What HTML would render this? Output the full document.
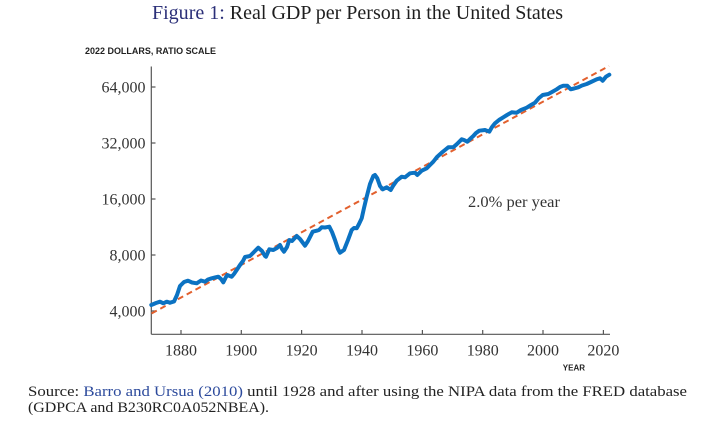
<!DOCTYPE html>
<html>
<head>
<meta charset="utf-8">
<style>
  html, body { margin: 0; padding: 0; background: #ffffff; }
  body { width: 712px; height: 427px; overflow: hidden; }
  svg { display: block; }
</style>
</head>
<body>
<svg width="712" height="427" viewBox="0 0 712 427" xmlns="http://www.w3.org/2000/svg">
  <rect x="0" y="0" width="712" height="427" fill="#ffffff"/>

  <!-- Title -->
  <text x="152" y="19" font-family="Liberation Serif, serif" font-size="20" textLength="411" lengthAdjust="spacingAndGlyphs" fill="#1e1e1e"><tspan fill="#2b2f78">Figure 1:</tspan> Real GDP per Person in the United States</text>

  <!-- Y axis label -->
  <text x="85" y="54" font-family="Liberation Sans, sans-serif" font-size="9" font-weight="bold" textLength="131" lengthAdjust="spacingAndGlyphs" fill="#222">2022 DOLLARS, RATIO SCALE</text>

  <!-- Axes -->
  <line x1="151.3" y1="66.5" x2="151.3" y2="334.3" stroke="#555" stroke-width="1.2"/>
  <line x1="151.3" y1="334.3" x2="610" y2="334.3" stroke="#555" stroke-width="1.2"/>

  <!-- Y ticks -->
  <g stroke="#555" stroke-width="1.2">
    <line x1="151.3" y1="87" x2="155.5" y2="87"/>
    <line x1="151.3" y1="143" x2="155.5" y2="143"/>
    <line x1="151.3" y1="199" x2="155.5" y2="199"/>
    <line x1="151.3" y1="255" x2="155.5" y2="255"/>
    <line x1="151.3" y1="311" x2="155.5" y2="311"/>
  </g>
  <g font-family="Liberation Serif, serif" font-size="16" fill="#333" text-anchor="end">
    <text x="145.5" y="92.5">64,000</text>
    <text x="145.5" y="148.5">32,000</text>
    <text x="145.5" y="204.5">16,000</text>
    <text x="145.5" y="260.5">8,000</text>
    <text x="145.5" y="316.5">4,000</text>
  </g>

  <!-- X ticks -->
  <g stroke="#555" stroke-width="1.2">
    <line x1="181" y1="330" x2="181" y2="334.3"/>
    <line x1="241.3" y1="330" x2="241.3" y2="334.3"/>
    <line x1="301.6" y1="330" x2="301.6" y2="334.3"/>
    <line x1="362" y1="330" x2="362" y2="334.3"/>
    <line x1="422.4" y1="330" x2="422.4" y2="334.3"/>
    <line x1="482.7" y1="330" x2="482.7" y2="334.3"/>
    <line x1="543" y1="330" x2="543" y2="334.3"/>
    <line x1="603.4" y1="330" x2="603.4" y2="334.3"/>
  </g>
  <g font-family="Liberation Serif, serif" font-size="16" fill="#333" text-anchor="middle">
    <text x="181" y="355.5">1880</text>
    <text x="241.3" y="355.5">1900</text>
    <text x="301.6" y="355.5">1920</text>
    <text x="362" y="355.5">1940</text>
    <text x="422.4" y="355.5">1960</text>
    <text x="482.7" y="355.5">1980</text>
    <text x="543" y="355.5">2000</text>
    <text x="603.4" y="355.5">2020</text>
  </g>
  <text x="585" y="370.5" font-family="Liberation Sans, sans-serif" font-size="8" font-weight="bold" fill="#222" text-anchor="end">YEAR</text>

  <!-- Trend line -->
  <line x1="151.5" y1="313.5" x2="609" y2="66" stroke="#e2602e" stroke-width="2" stroke-dasharray="6,4"/>

  <!-- GDP series -->
  <polyline fill="none" stroke="#0b72c2" stroke-width="4" stroke-linejoin="round" stroke-linecap="round"
    points="151.3,305 156,303 160,301.7 163.3,303.3 166.7,301.7 170,302.7 174,301.5 177,295 180,286 184,282 188,280.7 192,282.5 196.7,283.3 201,280.5 205,281.7 208,279.5 211.7,278.3 215,277.5 218.3,276.7 221,279 223.3,282.3 226,277 227.3,275 231.7,276.7 234,274 236.7,270 240,265 243,261 245,257 250,256 254,252 258.3,247.7 262,251 265,256 266,256.7 269.3,249.3 273.3,250 277,248 280,245 282,249 284,251.7 287,247 289.3,240 292,241 296.7,236 300,239 303,243 305,245.7 308,241 312.7,231.7 316.7,230.7 319,230 321.7,227.3 325,227.5 329.3,226.7 332,232 335,240 338,249 340,252.7 344,250 348,240 351.7,230 354,228 356.7,228.3 359,224 361.7,218.3 364,208 366.7,196.7 370,184 373.3,176 375,175 377.3,178.3 380,186 382.7,189.3 386.7,187.3 390.7,190 393,186 396.7,180.7 401.7,176.7 405,177.3 410,173.3 415,172.7 417.3,175 421.7,170.7 426.7,168.3 430,165 433.3,161.7 437,157 441.7,152.7 445,150 448.3,147.3 453.3,147.3 457,144 461.7,139.3 464,140 467.3,141.7 470,139 473.3,136 476,133 479.3,130.7 485,130 489.3,131.7 492,127 495,123.3 499,120 503.3,117.3 507,115 511.7,112.3 516.7,112.7 521,110 526.7,107.7 531,105 535,102.7 539,98 542.7,95 548.3,94 552,92 556.7,89.3 560,87 563.3,85.7 567.3,85.7 570.7,89.3 574,88.5 578.3,87.3 582,85.5 586.7,84 591,82 596.7,79.3 600,78.3 602.7,80.7 606,76.7 609.3,74.7"/>

  <!-- Annotation -->
  <text x="468" y="207" font-family="Liberation Serif, serif" font-size="16" fill="#333" textLength="92" lengthAdjust="spacingAndGlyphs">2.0% per year</text>

  <!-- Source -->
  <text x="28" y="396" font-family="Liberation Serif, serif" font-size="15" fill="#222" textLength="659" lengthAdjust="spacingAndGlyphs">Source: <tspan fill="#2c4a9c">Barro and Ursua (2010)</tspan> until 1928 and after using the NIPA data from the FRED database</text>
  <text x="28" y="412" font-family="Liberation Serif, serif" font-size="15" fill="#222" textLength="241" lengthAdjust="spacingAndGlyphs">(GDPCA and B230RC0A052NBEA).</text>
</svg>
</body>
</html>
